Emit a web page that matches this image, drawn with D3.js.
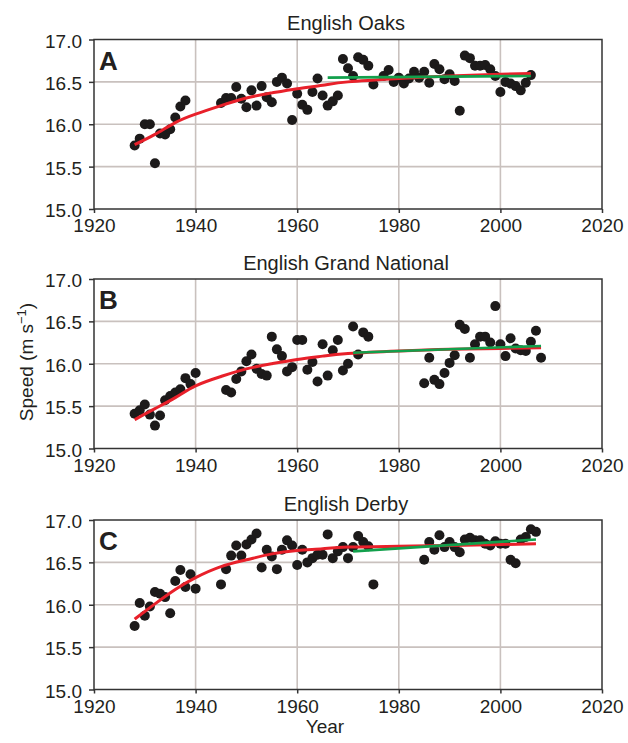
<!DOCTYPE html>
<html>
<head>
<meta charset="utf-8">
<script src="https://cdn.jsdelivr.net/npm/d3@7"></script>
<style>
  body { margin: 0; background: #fff; }
  svg text { font-family: "Liberation Sans", Arial, sans-serif; fill: #231f20; }
</style>
</head>
<body>
<div id="draw"></div>
<script>
// data
let oaksYears = [1928, 1929, 1930, 1931, 1932, 1933, 1934, 1935, 1936, 1937, 1938,
    1945, 1946, 1947, 1948, 1949, 1950, 1951, 1952, 1953, 1954, 1955, 1956, 1957, 1958, 1959,
    1960, 1961, 1962, 1963, 1964, 1965, 1966, 1967, 1968, 1969, 1970, 1971, 1972, 1973, 1974, 1975,
    1977, 1978, 1979, 1980, 1981, 1982, 1983, 1984, 1985, 1986, 1987, 1988, 1989, 1990, 1991, 1992,
    1993, 1994, 1995, 1996, 1997, 1998, 1999, 2000, 2001, 2002, 2003, 2004, 2005, 2006];
let oaksSpeed = [15.75, 15.83, 16.00, 16.00, 15.54, 15.89, 15.88, 15.94, 16.08, 16.21, 16.28,
    16.25, 16.31, 16.31, 16.44, 16.30, 16.20, 16.40, 16.22, 16.45, 16.32, 16.26, 16.50, 16.55, 16.48, 16.05,
    16.36, 16.23, 16.17, 16.38, 16.54, 16.34, 16.22, 16.27, 16.34, 16.77, 16.66, 16.57, 16.79, 16.76, 16.69, 16.47,
    16.57, 16.64, 16.50, 16.55, 16.48, 16.54, 16.62, 16.55, 16.62, 16.49, 16.71, 16.65, 16.53, 16.59, 16.51, 16.16,
    16.81, 16.78, 16.69, 16.69, 16.70, 16.65, 16.57, 16.38, 16.50, 16.48, 16.45, 16.40, 16.49, 16.58];
let oaksRed = [[1928, 15.76], [1932, 15.88], [1936, 16.02], [1940, 16.12], [1945, 16.22], [1950, 16.31],
    [1955, 16.37], [1960, 16.42], [1965, 16.46], [1970, 16.50], [1980, 16.54], [1990, 16.57], [2000, 16.59], [2006, 16.60]];
let oaksGreen = [[1966, 16.55], [2006, 16.57]];

let gnYears = [1928, 1929, 1930, 1931, 1932, 1933, 1934, 1935, 1936, 1937, 1938, 1939, 1940,
    1946, 1947, 1948, 1949, 1950, 1951, 1952, 1953, 1954, 1955, 1956, 1957, 1958, 1959,
    1960, 1961, 1962, 1963, 1964, 1965, 1966, 1967, 1968, 1969, 1970, 1971, 1972, 1973, 1974,
    1985, 1986, 1987, 1988, 1989, 1990, 1991, 1992, 1993, 1994, 1995, 1996, 1997, 1998, 1999,
    2000, 2001, 2002, 2003, 2004, 2005, 2006, 2007, 2008];
let gnSpeed = [15.41, 15.45, 15.52, 15.40, 15.27, 15.39, 15.57, 15.62, 15.66, 15.70, 15.83, 15.76, 15.89,
    15.69, 15.66, 15.82, 15.91, 16.03, 16.11, 15.94, 15.88, 15.86, 16.32, 16.17, 16.09, 15.91, 15.96,
    16.28, 16.28, 15.93, 16.02, 15.79, 16.23, 15.86, 16.16, 16.28, 15.92, 16.00, 16.44, 16.11, 16.37, 16.32,
    15.77, 16.07, 15.81, 15.76, 15.89, 16.01, 16.10, 16.46, 16.41, 16.07, 16.23, 16.32, 16.32, 16.25, 16.68,
    16.23, 16.09, 16.30, 16.18, 16.16, 16.15, 16.26, 16.39, 16.07];
let gnRed = [[1928, 15.34], [1932, 15.47], [1936, 15.60], [1940, 15.74], [1945, 15.85], [1950, 15.94],
    [1955, 16.00], [1960, 16.05], [1965, 16.09], [1970, 16.12], [1980, 16.15], [1990, 16.17], [2000, 16.18], [2008, 16.19]];
let gnGreen = [[1971, 16.13], [2008, 16.21]];

let derbyYears = [1928, 1929, 1930, 1931, 1932, 1933, 1934, 1935, 1936, 1937, 1938, 1939, 1940,
    1945, 1946, 1947, 1948, 1949, 1950, 1951, 1952, 1953, 1954, 1955, 1956, 1957, 1958, 1959,
    1960, 1961, 1962, 1963, 1964, 1965, 1966, 1967, 1968, 1969, 1970, 1971, 1972, 1973, 1974, 1975,
    1985, 1986, 1987, 1988, 1989, 1990, 1991, 1992, 1993, 1994, 1995, 1996, 1997, 1998, 1999,
    2000, 2001, 2002, 2003, 2004, 2005, 2006, 2007];
let derbySpeed = [15.75, 16.02, 15.87, 15.98, 16.15, 16.13, 16.09, 15.90, 16.28, 16.41, 16.21, 16.36, 16.19,
    16.24, 16.42, 16.58, 16.70, 16.58, 16.71, 16.77, 16.84, 16.44, 16.65, 16.57, 16.42, 16.65, 16.76, 16.70,
    16.47, 16.65, 16.50, 16.55, 16.59, 16.59, 16.83, 16.55, 16.63, 16.68, 16.55, 16.68, 16.81, 16.74, 16.69, 16.24,
    16.53, 16.74, 16.65, 16.82, 16.68, 16.74, 16.68, 16.62, 16.77, 16.79, 16.76, 16.76, 16.72, 16.70, 16.75,
    16.72, 16.72, 16.53, 16.49, 16.77, 16.80, 16.89, 16.86];
let derbyRed = [[1928, 15.83], [1932, 16.01], [1936, 16.18], [1940, 16.32], [1945, 16.45], [1950, 16.53],
    [1955, 16.60], [1960, 16.64], [1965, 16.66], [1970, 16.68], [1980, 16.69], [1990, 16.70], [2000, 16.71], [2007, 16.72]];
let derbyGreen = [[1971, 16.63], [2007, 16.77]];

let xTicks = [1920, 1940, 1960, 1980, 2000, 2020];
let yTicks = [15.0, 15.5, 16.0, 16.5, 17.0];

let panels = [
    { title: 'English Oaks', letter: 'A', years: oaksYears, speed: oaksSpeed, red: oaksRed, green: oaksGreen },
    { title: 'English Grand National', letter: 'B', years: gnYears, speed: gnSpeed, red: gnRed, green: gnGreen },
    { title: 'English Derby', letter: 'C', years: derbyYears, speed: derbySpeed, red: derbyRed, green: derbyGreen }
];

// parameters
let width = 628, height = 743;
let left = 94, right = 602;
let tops = [39.5, 279, 520];
let ph = 169.5;

let svg = d3.select('#draw').append('svg').attr('width', width).attr('height', height);

let x = d3.scaleLinear().domain([1920, 2020]).range([left, right]);

panels.forEach((p, i) => {
    let top = tops[i];
    let y = d3.scaleLinear().domain([15, 17]).range([top + ph, top]);
    let g = svg.append('g');

    // grid
    g.append('g').selectAll('line').data(xTicks.slice(1, -1)).enter().append('line')
        .attr('x1', d => x(d)).attr('x2', d => x(d))
        .attr('y1', top).attr('y2', top + ph)
        .style('stroke', '#c9c1be').style('stroke-width', 1.6);
    g.append('g').selectAll('line').data(yTicks.slice(1, -1)).enter().append('line')
        .attr('x1', left).attr('x2', right)
        .attr('y1', d => y(d)).attr('y2', d => y(d))
        .style('stroke', '#c9c1be').style('stroke-width', 1.6);

    // frame
    g.append('rect')
        .attr('x', left).attr('y', top).attr('width', right - left).attr('height', ph)
        .style('fill', 'none').style('stroke', '#333').style('stroke-width', 1.5);

    // axes
    let yAxis = d3.axisLeft(y).tickValues(yTicks).tickFormat(d3.format('.1f')).tickSize(5).tickPadding(7);
    let ya = g.append('g').attr('transform', 'translate(' + left + ',0)').call(yAxis);
    let xAxis = d3.axisBottom(x).tickValues(xTicks).tickFormat(d3.format('d')).tickSize(4).tickPadding(6);
    let xa = g.append('g').attr('transform', 'translate(0,' + (top + ph) + ')').call(xAxis);
    [ya, xa].forEach(a => {
        a.select('.domain').remove();
        a.selectAll('line').style('stroke', '#333').style('stroke-width', 1.5);
        a.selectAll('text').style('font-size', '19px').style('fill', '#231f20');
    });
    ya.selectAll('text').attr('dy', '0.4em');

    // dots
    g.append('g').selectAll('circle').data(p.years).enter().append('circle')
        .attr('cx', d => x(d))
        .attr('cy', (d, j) => y(p.speed[j]))
        .attr('r', 5)
        .style('fill', '#1c1a1a');

    // fitted lines
    let line = d3.line().x(d => x(d[0])).y(d => y(d[1])).curve(d3.curveNatural);
    g.append('path').attr('d', line(p.red))
        .style('fill', 'none').style('stroke', '#e8202a').style('stroke-width', 3);
    g.append('path').attr('d', line(p.green))
        .style('fill', 'none').style('stroke', '#12a04c').style('stroke-width', 2.6);

    // titles
    g.append('text').text(p.title)
        .attr('x', (left + right) / 2 - 2).attr('y', top - 9.5)
        .attr('text-anchor', 'middle')
        .style('font-size', '20px');
    g.append('text').text(p.letter)
        .attr('x', left + 5).attr('y', top + 30)
        .style('font-size', '26px').style('font-weight', 'bold');
});

// axis titles
svg.append('text')
    .attr('transform', 'translate(33,' + 362 + ') rotate(-90)')
    .attr('text-anchor', 'middle')
    .style('font-size', '19px')
    .html('Speed (m s<tspan dy="-7" style="font-size:13px">−1</tspan><tspan dy="7">)</tspan>');

svg.append('text').text('Year')
    .attr('x', 325).attr('y', 733)
    .attr('text-anchor', 'middle')
    .style('font-size', '19px');
</script>
</body>
</html>
